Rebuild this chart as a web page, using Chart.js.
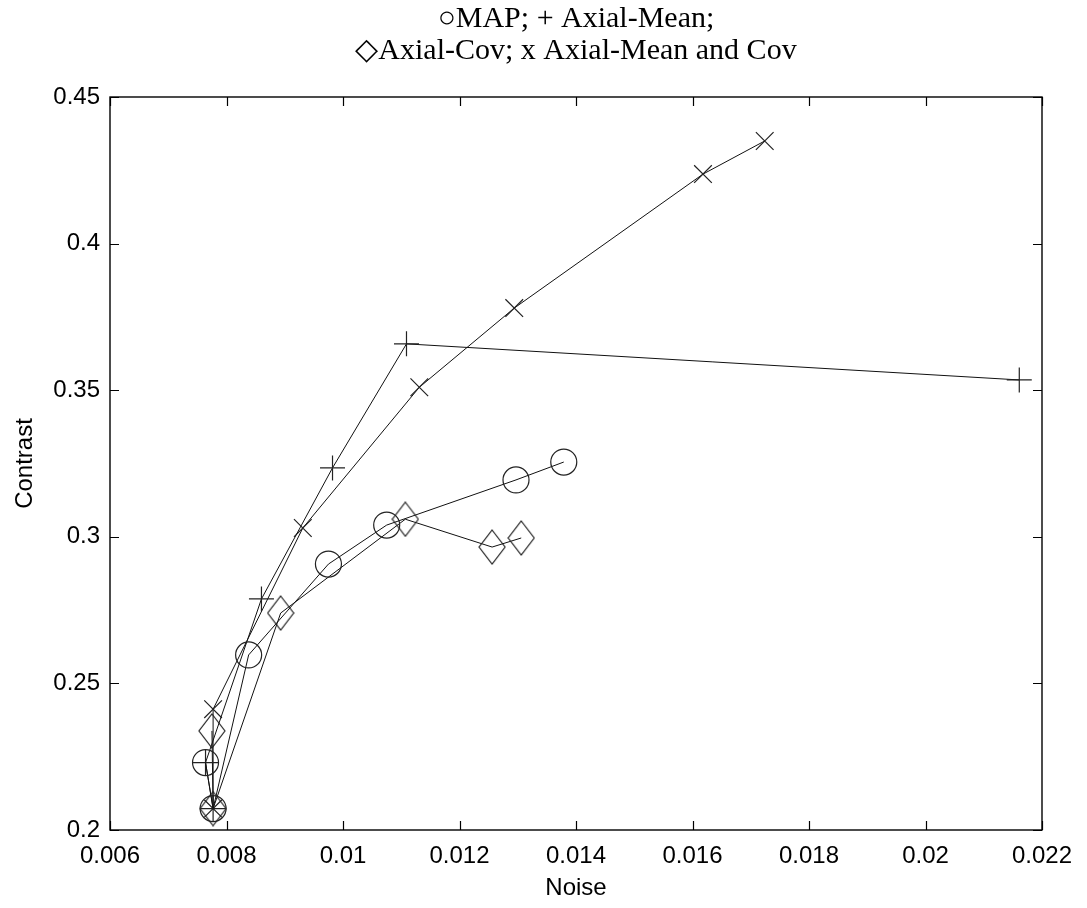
<!DOCTYPE html>
<html><head><meta charset="utf-8">
<script src="https://cdn.jsdelivr.net/npm/chart.js@4.4.0/dist/chart.umd.min.js"></script>
<style>html,body{margin:0;padding:0;background:#fff;} #c{display:block;}</style>
</head><body>
<canvas id="c" width="1087" height="908"></canvas>
<script>
const xTickLabels = ['0.006','0.008','0.01','0.012','0.014','0.016','0.018','0.02','0.022'];
const yTickLabels = ['0.2','0.25','0.3','0.35','0.4','0.45'];
const titleLines = ['\u25CBMAP; + Axial-Mean;', '\u25C7Axial-Cov; x Axial-Mean and Cov'];
const xAxisTitle = 'Noise';
const yAxisTitle = 'Contrast';

const mapNoise = [0.00764, 0.00777, 0.00838, 0.00975, 0.01075, 0.01297, 0.01379];
const mapContrast = [0.2230, 0.2073, 0.2597, 0.2907, 0.3040, 0.3194, 0.3255];

const meanNoise = [0.00777, 0.00764, 0.00860, 0.00982, 0.01109, 0.02161];
const meanContrast = [0.2073, 0.2230, 0.2788, 0.3235, 0.3658, 0.3535];

const covNoise = [0.00775, 0.00777, 0.00893, 0.01107, 0.01256, 0.01306];
const covContrast = [0.2338, 0.2073, 0.2740, 0.3060, 0.2965, 0.2996];

const bothNoise = [0.00777, 0.00777, 0.00931, 0.01131, 0.01294, 0.01618, 0.01724];
const bothContrast = [0.2073, 0.2412, 0.3030, 0.3510, 0.3780, 0.4237, 0.4350];

function zip(xs, ys) { return xs.map((x, i) => ({ x: x, y: ys[i] })); }

// tall diamond marker
const diamond = document.createElement('canvas');
diamond.width = 28; diamond.height = 36;
(function () {
  const g = diamond.getContext('2d');
  g.strokeStyle = '#222'; g.lineWidth = 1.2;
  g.beginPath();
  g.moveTo(14, 1); g.lineTo(27, 18); g.lineTo(14, 35); g.lineTo(1, 18); g.closePath();
  g.stroke();
})();

const frame = {
  id: 'frame',
  afterDraw(chart) {
    const a = chart.chartArea, ctx = chart.ctx;
    const xs = chart.scales.x, ys = chart.scales.y;
    const L = 9;
    ctx.save();
    ctx.strokeStyle = '#000';
    ctx.lineWidth = 1.4;
    ctx.strokeRect(a.left, a.top, a.right - a.left, a.bottom - a.top);
    ctx.lineWidth = 1.2;
    ctx.beginPath();
    xs.ticks.forEach(t => {
      const px = Math.round(xs.getPixelForValue(t.value)) + 0.5;
      ctx.moveTo(px, a.bottom); ctx.lineTo(px, a.bottom - L);
      ctx.moveTo(px, a.top); ctx.lineTo(px, a.top + L);
    });
    ys.ticks.forEach(t => {
      const py = Math.round(ys.getPixelForValue(t.value)) + 0.5;
      ctx.moveTo(a.left, py); ctx.lineTo(a.left + L, py);
      ctx.moveTo(a.right, py); ctx.lineTo(a.right - L, py);
    });
    ctx.stroke();
    ctx.restore();
  }
};

function ds(label, xs, ys, style, r) {
  return {
    label: label,
    data: zip(xs, ys),
    showLine: true,
    borderColor: '#111',
    borderWidth: 1,
    pointStyle: style,
    pointRadius: r,
    pointHoverRadius: r,
    pointBorderColor: '#222',
    pointBackgroundColor: 'rgba(0,0,0,0)',
    pointBorderWidth: 1.2,
    tension: 0
  };
}

const tickFont = { family: 'Liberation Sans', size: 24 };

new Chart(document.getElementById('c'), {
  type: 'scatter',
  data: {
    datasets: [
      ds('MAP', mapNoise, mapContrast, 'circle', 13),
      ds('Axial-Mean', meanNoise, meanContrast, 'cross', 12.5),
      ds('Axial-Cov', covNoise, covContrast, diamond, 14),
      ds('Axial-Mean and Cov', bothNoise, bothContrast, 'crossRot', 12.5)
    ]
  },
  options: {
    responsive: false,
    animation: false,
    devicePixelRatio: 1,
    layout: { padding: { left: 0, right: 45, top: 0, bottom: 0 } },
    plugins: {
      legend: { display: false },
      tooltip: { enabled: false },
      title: {
        display: true,
        fullSize: false,
        text: titleLines,
        color: '#000',
        font: { family: 'Liberation Serif', size: 30, weight: 'normal', lineHeight: 1.04 },
        padding: { top: 4, bottom: 30.6 }
      }
    },
    scales: {
      x: {
        type: 'linear',
        min: parseFloat(xTickLabels[0]),
        max: parseFloat(xTickLabels[xTickLabels.length - 1]),
        afterBuildTicks(s) { s.ticks = xTickLabels.map(t => ({ value: parseFloat(t) })); },
        ticks: {
          callback: (v, i) => xTickLabels[i],
          font: tickFont, color: '#000', padding: 12, maxRotation: 0, autoSkip: false
        },
        grid: { display: false, drawTicks: false },
        border: { display: false },
        title: { display: true, text: xAxisTitle, color: '#000', font: tickFont, padding: { top: 0, bottom: 5 } },
        afterFit(s) { s.height = 78; }
      },
      y: {
        type: 'linear',
        min: parseFloat(yTickLabels[0]),
        max: parseFloat(yTickLabels[yTickLabels.length - 1]),
        afterBuildTicks(s) { s.ticks = yTickLabels.map(t => ({ value: parseFloat(t) })); },
        ticks: {
          callback: (v, i) => yTickLabels[i],
          font: tickFont, color: '#000', padding: 10, autoSkip: false
        },
        grid: { display: false, drawTicks: false },
        border: { display: false },
        title: { display: true, text: yAxisTitle, color: '#000', font: tickFont, padding: { top: 11, bottom: 0 } },
        afterFit(s) { s.width = 110; }
      }
    }
  },
  plugins: [frame]
});
</script>
</body></html>
